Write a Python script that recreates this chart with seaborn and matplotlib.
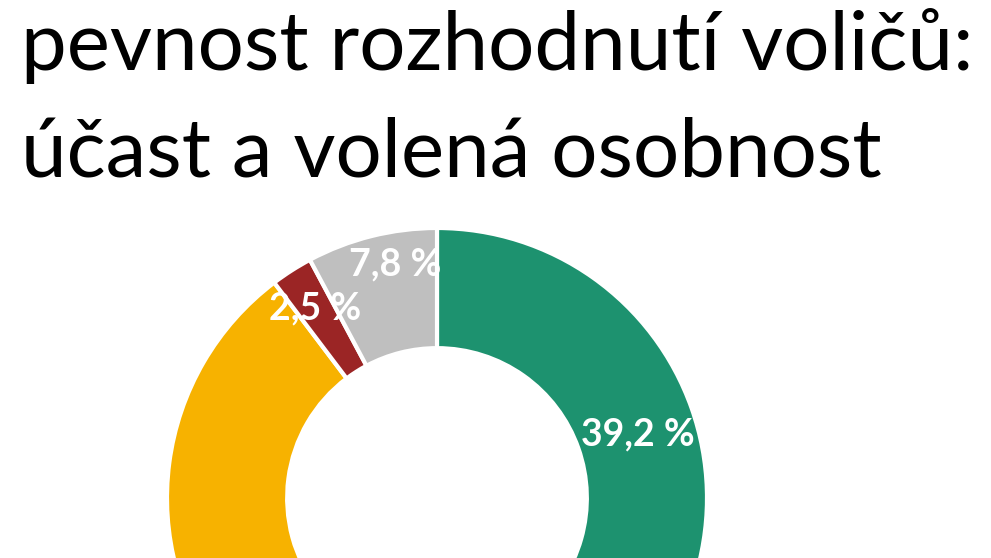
import numpy as np
import matplotlib
matplotlib.use("Agg")
import matplotlib.pyplot as plt
import seaborn as sns

# data (clockwise from 12 o'clock)
segments = ["rozhodně", "spíše", "neví", "ostatní"]
shares = [39.2, 50.5, 2.5, 7.8]
labels = ["39,2 %", "50,5 %", "2,5 %", "7,8 %"]
title_lines = ["pevnost rozhodnutí voličů:", "účast a volená osobnost"]

colors = ["#1D926F", "#F7B200", "#9B2525", "#BFBFBF"]

sns.set_theme(style="white")
plt.rcParams['font.family'] = ['Lato', 'DejaVu Sans']

W, H = 991, 558
fig = plt.figure(figsize=(W / 100, H / 100), dpi=100)
ax = fig.add_axes([0, 0, 1, 1])

wedges, _ = ax.pie(shares, colors=colors, startangle=90, counterclock=False,
                   radius=1, wedgeprops=dict(width=0.445, edgecolor="white", linewidth=3))

# pixel geometry of the donut: centre (437, 498 from top), radius 270 px
R = 270.0
cx, cy = 437.0, 498.0
ax.set_aspect("auto")
ax.set_xlim(-cx / R, (W - cx) / R)
ax.set_ylim(-(H - cy) / R, cy / R)
ax.axis("off")

label_r = [0.78, 0.78, 0.835, 0.88]
label_shift = [-2, 0, 0, -4]
for w, lab, r, sh in zip(wedges, labels, label_r, label_shift):
    ang = np.deg2rad((w.theta1 + w.theta2) / 2 + sh)
    x, y = r * np.cos(ang), r * np.sin(ang)
    if y < ax.get_ylim()[0] + 0.1:
        continue  # label falls below the cropped bottom edge
    ax.text(x, y, lab, color="white",
            fontsize=27, fontweight="bold", ha="center", va="center")

# title, fitted to the width of the reference lines
renderer = fig.canvas.get_renderer()
targets = [954, 861]
baselines = [70, 177]
size = None
for line, base, tw in zip(title_lines, baselines, targets):
    t = fig.text(21 / W, 1 - base / H, line, ha="left", va="baseline",
                 fontsize=60, color="black")
    if size is None:
        wpx = t.get_window_extent(renderer).width
        size = 60 * tw / wpx
    t.set_fontsize(size)

fig.savefig("out.png", dpi=100, facecolor="white")
